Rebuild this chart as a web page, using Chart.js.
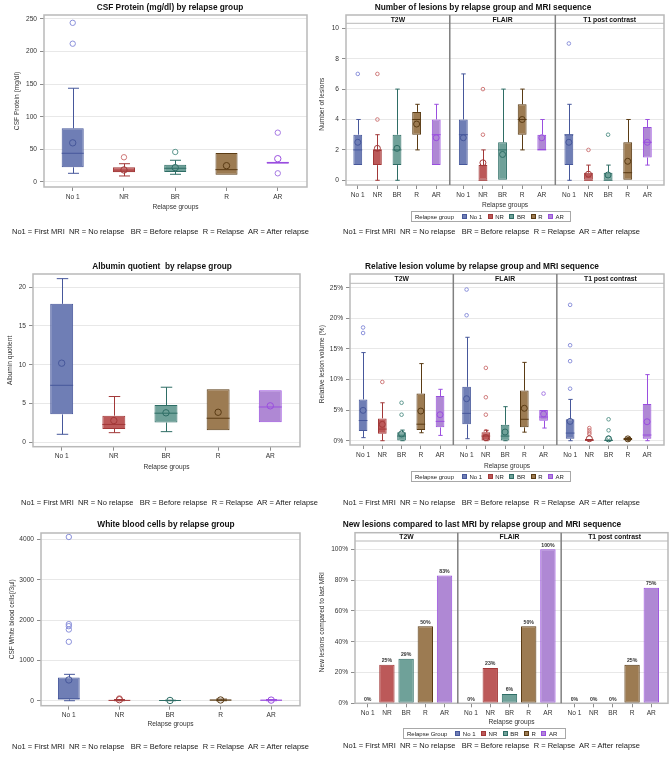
<!DOCTYPE html>
<html>
<head>
<meta charset="utf-8">
<title>Relapse groups</title>
<script src="https://cdn.jsdelivr.net/npm/chart.js@4.4.1/dist/chart.umd.min.js"></script>
<style>
  html, body { margin: 0; padding: 0; background: #fff; }
  body { position: relative; width: 669px; height: 757px; overflow: hidden;
         font-family: "Liberation Sans", Arial, sans-serif; color: #111; }
  canvas { position: absolute; }
  .title { position: absolute; font-size: 8.3px; font-weight: bold; white-space: nowrap;
           transform: translate(-50%, -50%); line-height: 1; z-index: 2; }
  .note { position: absolute; font-size: 7.5px; white-space: pre; transform: translateY(-50%);
          line-height: 1; z-index: 2; color: #1a1a1a; will-change: transform; }
  .legend { position: absolute; height: 11px; border: 1px solid #a8a8a8; box-sizing: border-box;
            display: flex; align-items: center; padding: 0 0 0 3px; font-size: 6px;
            white-space: nowrap; background: #fff; z-index: 2; color: #222; will-change: transform; }
  .legend span { flex-shrink: 0; }
  .legend .lt { margin-right: 8px; }
  .legend .sw { display: block; width: 5px; height: 5px; margin-right: 2.5px; box-sizing: border-box; border: 1px solid; }
  .legend .it { margin-right: 5.5px; }
</style>
</head>
<body>
<div class="title" style="left:170px; top:7px">CSF Protein (mg/dl) by relapse group</div>
<div class="title" style="left:483px; top:7px">Number of lesions by relapse group and MRI sequence</div>
<div class="title" style="left:162px; top:266px">Albumin quotient&nbsp; by relapse group</div>
<div class="title" style="left:482px; top:266px">Relative lesion volume by relapse group and MRI sequence</div>
<div class="title" style="left:166px; top:524px">White blood cells by relapse group</div>
<div class="title" style="left:482px; top:524px">New lesions compared to last MRI by relapse group and MRI sequence</div>

<script>
const groups = ['No 1', 'NR', 'BR', 'R', 'AR'];
const facets = ['T2W', 'FLAIR', 'T1 post contrast'];

// CSF protein (mg/dl)
const proteinTicks = [0, 50, 100, 150, 200, 250];
const proteinLow = [13.3, 9.2, 11.8, 11.2, 28];
const proteinQ1 = [22.5, 14.9, 15.3, 11.2, 28];
const proteinMedian = [44, 16.5, 21, 18.9, 29.6];
const proteinQ3 = [82.3, 22.5, 26.5, 44.5, 31];
const proteinHigh = [143.7, 28, 33.3, 44.5, 31];
const proteinMean = [60, 18.4, 22, 25, 35.7];
const proteinOutliers = [[212, 244], [37.9], [46], [], [13.3, 75.6]];

// number of lesions: T2W | FLAIR | T1 post contrast
const lesionTicks = [0, 2, 4, 6, 8, 10];
const lesionLow = [1, 0, 0, 2, 1, 1, 0, 0, 2, 2, 0, 0, 0, 0, 1];
const lesionQ1 = [1, 1, 1, 3, 1, 1, 0, 0, 3, 2, 1, 0, 0, 0, 1.5];
const lesionMedian = [2, 2, 2, 4, 3, 3, 0, 2, 4, 2, 3, 0, 0, 0.5, 2.5];
const lesionQ3 = [3, 2, 3, 4.5, 4, 4, 1, 2.5, 5, 3, 3, 0.5, 0.5, 2.5, 3.5];
const lesionHigh = [4, 3, 6, 5, 5, 7, 2, 6, 6, 4, 5, 1, 1, 4, 4];
const lesionMean = [2.5, 2.1, 2.1, 3.7, 2.8, 2.8, 1.15, 1.7, 4, 2.8, 2.5, 0.4, 0.35, 1.25, 2.5];
const lesionOutliers = [[7], [4, 7], [], [], [], [], [3, 6], [], [], [], [9], [2], [3], [], []];

// albumin quotient
const albuminTicks = [0, 5, 10, 15, 20];
const albuminLow = [1.03, 1.24, 1.37, 1.55, 2.58];
const albuminQ1 = [3.6, 1.72, 2.55, 1.55, 2.58];
const albuminMedian = [7.35, 2.3, 3.75, 3.1, 4.55];
const albuminQ3 = [17.85, 3.43, 4.8, 6.84, 6.7];
const albuminHigh = [21.1, 5.9, 7.1, 6.84, 6.7];
const albuminMean = [10.2, 2.8, 3.8, 3.87, 4.7];
const albuminOutliers = [[], [], [], [], []];

// relative lesion volume (%): T2W | FLAIR | T1 post contrast
const volumeTicks = [0, 5, 10, 15, 20, 25];
const volumeLow = [0.5, 0, 0, 1.3, 0.87, 0.33, 0, 0, 1.4, 2.07, 0, 0, 0, 0, 0];
const volumeQ1 = [1.58, 1.14, 0.05, 1.74, 2.18, 2.67, 0.05, 0.05, 2.18, 3.27, 0.33, 0.02, 0.02, 0.1, 0.33];
const volumeMedian = [3.3, 1.9, 0.76, 2.7, 3.16, 4.47, 0.76, 0.76, 3.5, 3.87, 1.25, 0.05, 0.05, 0.27, 0.93];
const volumeQ3 = [6.75, 3.65, 1.4, 7.7, 7.3, 8.8, 1.4, 2.6, 8.2, 5.0, 3.5, 0.3, 0.2, 0.44, 6.0];
const volumeHigh = [14.4, 6.2, 1.74, 12.6, 8.4, 16.9, 1.7, 5.56, 12.8, 5.0, 6.75, 0.3, 0.2, 0.54, 10.8];
const volumeMean = [4.96, 2.67, 1.1, 4.85, 4.25, 6.86, 0.5, 1.42, 5.3, 4.36, 3.16, 0.33, 0.3, 0.3, 3.1];
const volumeOutliers = [[17.6, 18.5], [9.6], [4.25, 6.2], [], [],
  [20.5, 24.7], [1.55, 4.25, 7.1, 11.9], [], [], [7.7],
  [8.5, 13.0, 15.6, 22.2], [1.1, 1.36, 1.7, 2.07], [0.5, 1.7, 3.5], [], []];

// CSF white blood cells (/3µl)
const wbcTicks = [0, 1000, 2000, 3000, 4000];
const wbcLow = [0, 0, 0, 0, 0];
const wbcQ1 = [33, 3, 2, 5, 5];
const wbcMedian = [50, 8, 5, 15, 10];
const wbcQ3 = [578, 15, 9, 30, 28];
const wbcHigh = [655, 30, 12, 40, 30];
const wbcMean = [515, 25, 6, 18, 15];
const wbcOutliers = [[1463, 1768, 1851, 1901, 4066], [58], [], [], []];

// new lesions compared to last MRI (%): T2W | FLAIR | T1 post contrast
const newLesionTicks = [0, 20, 40, 60, 80, 100];
const newLesionPct = [0, 25, 29, 50, 83, 0, 23, 6, 50, 100, 0, 0, 0, 25, 75];

const fills = ['#6F7EB5', '#BC5959', '#6FA199', '#9C7B52', '#AF88D4'];
const lines = ['#46579B', '#A23838', '#2E6D65', '#5A3B14', '#9A4EDF'];
const dots = ['#8A90DA', '#CF7A7A', '#5E988F', '#8A6A40', '#A679E3'];

const FONT = '"Liberation Sans", Arial, sans-serif';
const tickFont = { family: FONT, size: 6.6 };
const LH = 6.6 * 1.2;
const FACET_PITCH = 5.38;
const NOTE = 'No1 = First MRI  NR = No relapse   BR = Before relapse  R = Relapse  AR = After relapse';

const facetX = i => Math.floor(i / 5) * FACET_PITCH + (i % 5);
const plainX = i => i;
const facetDividers = [FACET_PITCH - 0.69, 2 * FACET_PITCH - 0.69];

function makeCanvas(box) {
    const c = document.createElement('canvas');
    c.width = box.right - box.left;
    c.height = box.bottom - box.top;
    c.style.left = box.left + 'px';
    c.style.top = box.top + 'px';
    document.body.appendChild(c);
    return c;
}

function addNote(left, top) {
    const d = document.createElement('div');
    d.className = 'note';
    d.style.left = left + 'px';
    d.style.top = top + 'px';
    d.textContent = NOTE;
    document.body.appendChild(d);
}

function addLegend(left, top, width, caption) {
    const d = document.createElement('div');
    d.className = 'legend';
    d.style.left = left + 'px';
    d.style.top = top + 'px';
    d.style.width = width + 'px';
    d.innerHTML = '<span class="lt">' + caption + '</span>' + groups.map((g, k) =>
        '<span class="sw" style="background:' + fills[k] + ';border-color:' + lines[k] + '"></span>' +
        '<span class="it">' + g + '</span>').join('');
    document.body.appendChild(d);
}

// frame, facet strip and dividers
function framePlugin(p) {
    return {
        id: 'panelFrame',
        afterDraw(chart) {
            const { ctx, chartArea: a } = chart;
            const top = a.top - p.stripH;
            ctx.save();
            ctx.strokeStyle = '#b9b9b9';
            ctx.lineWidth = 1.5;
            ctx.strokeRect(a.left, top, a.right - a.left, a.bottom - top);
            if (p.faceted) {
                ctx.lineWidth = 1;
                ctx.beginPath();
                ctx.moveTo(a.left, a.top);
                ctx.lineTo(a.right, a.top);
                ctx.stroke();
                const xs = [a.left, ...facetDividers.map(v => chart.scales.x.getPixelForValue(v)), a.right];
                ctx.strokeStyle = '#808080';
                ctx.lineWidth = 1.5;
                ctx.beginPath();
                xs.slice(1, -1).forEach(x => { ctx.moveTo(x, top); ctx.lineTo(x, a.bottom); });
                ctx.stroke();
                ctx.font = 'bold 6.8px ' + FONT;
                ctx.fillStyle = '#111';
                ctx.textAlign = 'center';
                ctx.textBaseline = 'middle';
                facets.forEach((f, k) => ctx.fillText(f, (xs[k] + xs[k + 1]) / 2, top + p.stripH / 2 + 0.5));
            }
            ctx.restore();
        }
    };
}

// whiskers, caps and median line on top of the floating bars
const boxWhiskers = {
    id: 'boxWhiskers',
    afterDatasetsDraw(chart) {
        const ds = chart.data.datasets[0];
        if (!ds.median) return;
        const meta = chart.getDatasetMeta(0);
        const yScale = chart.scales.y;
        const py = v => yScale.getPixelForValue(v);
        const ctx = chart.ctx;
        const a = chart.chartArea;
        ctx.save();
        ctx.beginPath();
        ctx.rect(a.left, a.top, a.right - a.left, a.bottom - a.top);
        ctx.clip();
        ctx.lineWidth = 1;
        meta.data.forEach((bar, i) => {
            const [q1, q3] = ds.data[i].y;
            const x = Math.round(bar.x) + 0.5;
            const half = bar.width / 2;
            const cap = bar.width / 4;
            ctx.strokeStyle = ds.borderColor[i];
            ctx.beginPath();
            if (ds.high[i] > q3) {
                ctx.moveTo(x, py(q3)); ctx.lineTo(x, py(ds.high[i]));
                ctx.moveTo(x - cap, py(ds.high[i])); ctx.lineTo(x + cap, py(ds.high[i]));
            }
            if (ds.low[i] < q1) {
                ctx.moveTo(x, py(q1)); ctx.lineTo(x, py(ds.low[i]));
                ctx.moveTo(x - cap, py(ds.low[i])); ctx.lineTo(x + cap, py(ds.low[i]));
            }
            ctx.moveTo(bar.x - half, py(ds.median[i]));
            ctx.lineTo(bar.x + half, py(ds.median[i]));
            ctx.stroke();
        });
        ctx.restore();
    }
};

// percentage labels above bars
const barValues = {
    id: 'barValues',
    afterDatasetsDraw(chart) {
        const ds = chart.data.datasets[0];
        const ctx = chart.ctx;
        ctx.save();
        ctx.font = 'bold 5.2px ' + FONT;
        ctx.fillStyle = '#333';
        ctx.textAlign = 'center';
        ctx.textBaseline = 'bottom';
        chart.getDatasetMeta(0).data.forEach((bar, i) => {
            ctx.fillText(ds.data[i].y + '%', bar.x, bar.y - 1.5);
        });
        ctx.restore();
    }
};

function baseOptions(p) {
    return {
        responsive: false,
        animation: false,
        events: [],
        devicePixelRatio: 1,
        layout: { padding: { left: 0, top: p.frame.t + p.stripH - p.box.top, right: p.box.right - p.frame.r, bottom: 0 } },
        plugins: { legend: { display: false }, title: { display: false }, tooltip: { enabled: false } },
        scales: {
            x: {
                type: 'linear', min: p.xMin, max: p.xMax, offset: false,
                grid: { offset: false, drawOnChartArea: false, tickLength: 4, tickColor: '#8c8c8c' },
                border: { display: false },
                ticks: { font: tickFont, color: '#333', padding: 2, maxRotation: 0, autoSkip: false,
                         callback: (v, i) => groups[i % groups.length] },
                afterBuildTicks: s => { s.ticks = p.xs.map(v => ({ value: v })); },
                afterFit: s => { s.height = p.box.bottom - p.frame.b; },
                title: { display: true, text: 'Relapse groups', font: tickFont, color: '#333',
                         padding: { top: 0, bottom: p.box.bottom - p.xTitleY - LH / 2 } }
            },
            y: {
                type: 'linear', min: p.yMin, max: p.yMax,
                grid: { color: '#e8e8e8', tickColor: '#8c8c8c', tickLength: 4 },
                border: { display: false },
                ticks: { font: tickFont, color: '#333', padding: 3, autoSkip: false,
                         callback: p.yFormat || (v => v) },
                afterBuildTicks: s => { s.ticks = p.yTicks.map(v => ({ value: v })); },
                afterFit: s => { s.width = p.frame.l - p.box.left; },
                title: { display: true, text: p.yTitle, font: tickFont, color: '#333',
                         padding: { top: p.yTitleX - p.box.left - LH / 2, bottom: 0 } }
            }
        }
    };
}

function boxPanel(p) {
    const n = p.q1.length;
    p.xs = Array.from({ length: n }, (_, i) => (p.faceted ? facetX : plainX)(i));
    const g = i => i % 5;
    const outPts = [], outCols = [];
    p.outliers.forEach((list, i) => list.forEach(v => {
        outPts.push({ x: p.xs[i], y: v });
        outCols.push(dots[g(i)]);
    }));
    new Chart(makeCanvas(p.box), {
        type: 'bar',
        data: {
            datasets: [{
                label: 'box',
                data: p.xs.map((x, i) => ({ x, y: [p.q1[i], p.q3[i]] })),
                backgroundColor: p.xs.map((x, i) => fills[g(i)]),
                borderColor: p.xs.map((x, i) => lines[g(i)]),
                borderWidth: 1,
                borderSkipped: false,
                barPercentage: p.barPct,
                categoryPercentage: 1,
                low: p.low, high: p.high, median: p.median,
                order: 3
            }, {
                type: 'scatter',
                label: 'mean',
                data: p.xs.map((x, i) => ({ x, y: p.mean[i] })),
                pointRadius: p.meanR,
                pointBorderWidth: 1,
                pointBorderColor: p.xs.map((x, i) => lines[g(i)]),
                pointBackgroundColor: 'rgba(0,0,0,0)',
                order: 1
            }, {
                type: 'scatter',
                label: 'outliers',
                data: outPts,
                pointRadius: p.outR,
                pointBorderWidth: 1,
                pointBorderColor: outCols,
                pointBackgroundColor: 'rgba(0,0,0,0)',
                order: 2
            }]
        },
        options: baseOptions(p),
        plugins: [framePlugin(p), boxWhiskers]
    });
}

boxPanel({
    box: { left: 10, top: 5, right: 312, bottom: 214 },
    frame: { l: 44, t: 15, r: 309, b: 187 }, stripH: 0,
    xMin: -0.56, xMax: 4.57, yMin: -7.7, yMax: 256, yTicks: proteinTicks,
    yTitle: 'CSF Protein (mg/dl)', yTitleX: 17.5, xTitleY: 207,
    low: proteinLow, q1: proteinQ1, median: proteinMedian, q3: proteinQ3, high: proteinHigh,
    mean: proteinMean, outliers: proteinOutliers, barPct: 0.43, meanR: 3.2, outR: 2.7
});

boxPanel({
    box: { left: 314, top: 5, right: 669, bottom: 212 },
    frame: { l: 346, t: 15, r: 668, b: 185 }, stripH: 8.3, faceted: true,
    xMin: -0.6, xMax: 15.61, yMin: -0.31, yMax: 10.33, yTicks: lesionTicks,
    yTitle: 'Number of lesions', yTitleX: 322, xTitleY: 204.7,
    low: lesionLow, q1: lesionQ1, median: lesionMedian, q3: lesionQ3, high: lesionHigh,
    mean: lesionMean, outliers: lesionOutliers, barPct: 0.45, meanR: 3, outR: 1.8
});

boxPanel({
    box: { left: 3, top: 264, right: 305, bottom: 475 },
    frame: { l: 33, t: 274, r: 302, b: 446.7 }, stripH: 0,
    xMin: -0.55, xMax: 4.57, yMin: -0.57, yMax: 21.7, yTicks: albuminTicks,
    yTitle: 'Albumin quotient', yTitleX: 10, xTitleY: 467.3,
    low: albuminLow, q1: albuminQ1, median: albuminMedian, q3: albuminQ3, high: albuminHigh,
    mean: albuminMean, outliers: albuminOutliers, barPct: 0.44, meanR: 3.2, outR: 2.7
});

boxPanel({
    box: { left: 315, top: 264, right: 669, bottom: 473 },
    frame: { l: 350, t: 274, r: 668, b: 445 }, stripH: 9.3, faceted: true,
    xMin: -0.68, xMax: 15.64, yMin: -0.7, yMax: 25.72, yTicks: volumeTicks, yFormat: v => v + '%',
    yTitle: 'Relative lesion volume (%)', yTitleX: 322, xTitleY: 466,
    low: volumeLow, q1: volumeQ1, median: volumeMedian, q3: volumeQ3, high: volumeHigh,
    mean: volumeMean, outliers: volumeOutliers, barPct: 0.45, meanR: 3, outR: 1.8
});

boxPanel({
    box: { left: 5, top: 523, right: 305, bottom: 732 },
    frame: { l: 41, t: 533, r: 302, b: 705.7 }, stripH: 0,
    xMin: -0.55, xMax: 4.57, yMin: -124, yMax: 4165, yTicks: wbcTicks,
    yTitle: 'CSF White blood cells(/3µl)', yTitleX: 12, xTitleY: 724.5,
    low: wbcLow, q1: wbcQ1, median: wbcMedian, q3: wbcQ3, high: wbcHigh,
    mean: wbcMean, outliers: wbcOutliers, barPct: 0.43, meanR: 3.2, outR: 2.7
});

// bar chart panel
(function () {
    const p = {
        box: { left: 315, top: 522, right: 669, bottom: 730 },
        frame: { l: 355, t: 532.7, r: 668, b: 703.3 }, stripH: 8.3, faceted: true,
        xMin: -0.66, xMax: 15.63, yMin: 0, yMax: 105.4, yTicks: newLesionTicks, yFormat: v => v + '%',
        yTitle: 'New lesions compared to last MRI', yTitleX: 322, xTitleY: 722.5
    };
    p.xs = newLesionPct.map((v, i) => facetX(i));
    new Chart(makeCanvas(p.box), {
        type: 'bar',
        data: {
            datasets: [{
                label: 'New lesions',
                data: p.xs.map((x, i) => ({ x, y: newLesionPct[i] })),
                backgroundColor: p.xs.map((x, i) => fills[i % 5]),
                borderColor: p.xs.map((x, i) => lines[i % 5]),
                borderWidth: 1,
                borderSkipped: false,
                barPercentage: 0.8,
                categoryPercentage: 1
            }]
        },
        options: baseOptions(p),
        plugins: [framePlugin(p), barValues]
    });
})();

addLegend(411, 210.5, 160, 'Relapse group');
addLegend(411, 471, 160, 'Relapse group');
addLegend(403, 728, 163, 'Relapse Group');

addNote(12, 232);
addNote(343, 232);
addNote(21, 503);
addNote(343, 503);
addNote(12, 747);
addNote(343, 746);
</script>
</body>
</html>
